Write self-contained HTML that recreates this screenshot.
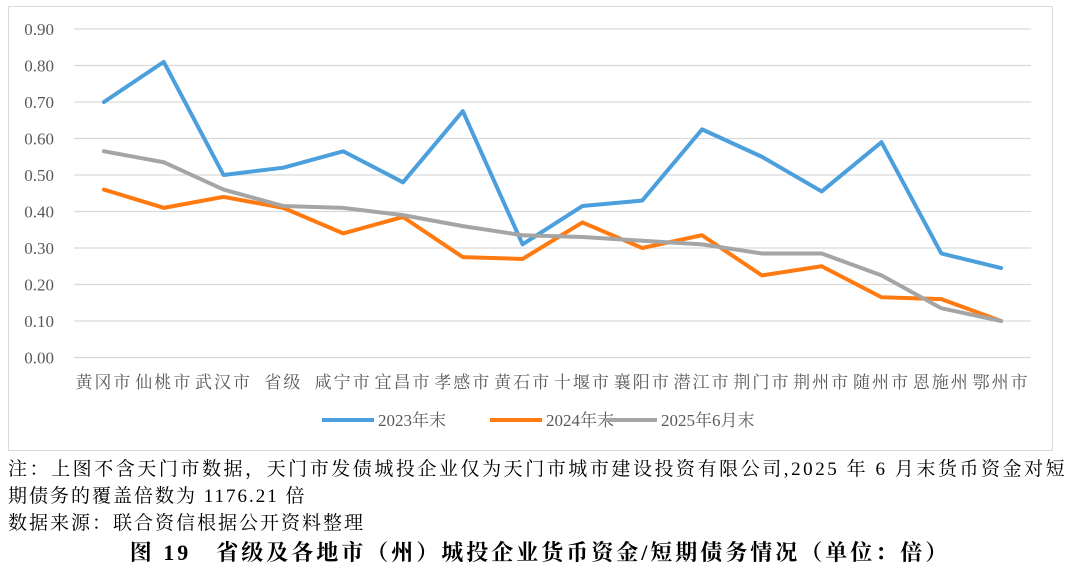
<!DOCTYPE html>
<html><head><meta charset="utf-8"><style>
body{margin:0;width:1080px;height:572px;background:#fff;overflow:hidden;font-family:"Liberation Serif","Noto Serif CJK SC",serif}
#box{position:absolute;left:8px;top:6px;width:1043px;height:443px;border:1px solid #d9d9d9}
.note{position:absolute;left:8px;font-size:19px;letter-spacing:2px;color:#000;white-space:nowrap}
</style></head><body>
<div id="box"></div>
<svg id="chart" width="1080" height="460" style="position:absolute;left:0;top:0"></svg>
<div class="note" style="top:454px;letter-spacing:2.55px">注：上图不含天门市数据，天门市发债城投企业仅为天门市城市建设投资有限公司,2025 年 6 月末货币资金对短</div>
<div class="note" style="top:481px">期债务的覆盖倍数为 1176.21 倍</div>
<div class="note" style="top:508px">数据来源：联合资信根据公开资料整理</div>
<div class="note" style="top:536px;left:0;width:1080px;text-align:center;font-weight:bold;font-size:22px;letter-spacing:3px">图 19　省级及各地市（州）城投企业货币资金/短期债务情况（单位：倍）</div>
<script>
const categories=["黄冈市","仙桃市","武汉市","省级","咸宁市","宜昌市","孝感市","黄石市","十堰市","襄阳市","潜江市","荆门市","荆州市","随州市","恩施州","鄂州市"];
const s2023=[0.70,0.81,0.50,0.52,0.565,0.48,0.675,0.31,0.415,0.43,0.625,0.55,0.455,0.59,0.285,0.245];
const s2024=[0.46,0.41,0.44,0.41,0.34,0.385,0.275,0.27,0.37,0.30,0.335,0.225,0.25,0.165,0.16,0.10];
const s2025=[0.565,0.535,0.46,0.415,0.41,0.39,0.36,0.335,0.33,0.32,0.31,0.285,0.285,0.225,0.135,0.10];
const yTicks=[0,0.1,0.2,0.3,0.4,0.5,0.6,0.7,0.8,0.9];
const seriesNames=["2023年末","2024年末","2025年6月末"];
const svg=document.getElementById('chart');const NS="http://www.w3.org/2000/svg";
const X0=74,X1=1031,Y0=357.5,Y1=29;
const step=(X1-X0)/categories.length;
const x=i=>X0+step*(i+0.5);
const y=v=>Y0-(v/0.9)*(Y0-Y1);
function mk(t,a){const e=document.createElementNS(NS,t);for(const k in a)e.setAttribute(k,a[k]);svg.appendChild(e);return e;}
yTicks.forEach(v=>{
const g=mk('line',{x1:X0,x2:X1,y1:y(v),y2:y(v),stroke:'#d9d9d9','stroke-width':1.2});


const t=mk('text',{x:54,y:y(v)+6,'text-anchor':'end','font-size':17,fill:'#595959','font-family':'Liberation Serif, serif'});
t.textContent=v.toFixed(2);


});
categories.forEach((c,i)=>{
const t=mk('text',{x:x(i),y:388,'text-anchor':'middle','font-size':17,'letter-spacing':2,fill:'#595959','font-family':'Noto Serif CJK SC, serif'});
t.textContent=c;


});
const colors=['#4a9fdc','#ff7a10','#a5a5a5'];
[s2023,s2024,s2025].forEach((s,k)=>{
const p=mk('polyline',{points:s.map((v,i)=>x(i)+','+y(v)).join(' '),fill:'none',stroke:colors[k],'stroke-width':4,'stroke-linejoin':'round','stroke-linecap':'round'});


});
const lx=[322,490,605];
seriesNames.forEach((n,k)=>{
const l=mk('line',{x1:lx[k],x2:lx[k]+52,y1:420,y2:420,stroke:colors[k],'stroke-width':4});


const t=mk('text',{x:lx[k]+56,y:426,'font-size':17,fill:'#595959','font-family':'Liberation Serif, Noto Serif CJK SC, serif'});
t.textContent=n;


});
</script>
</body></html>
